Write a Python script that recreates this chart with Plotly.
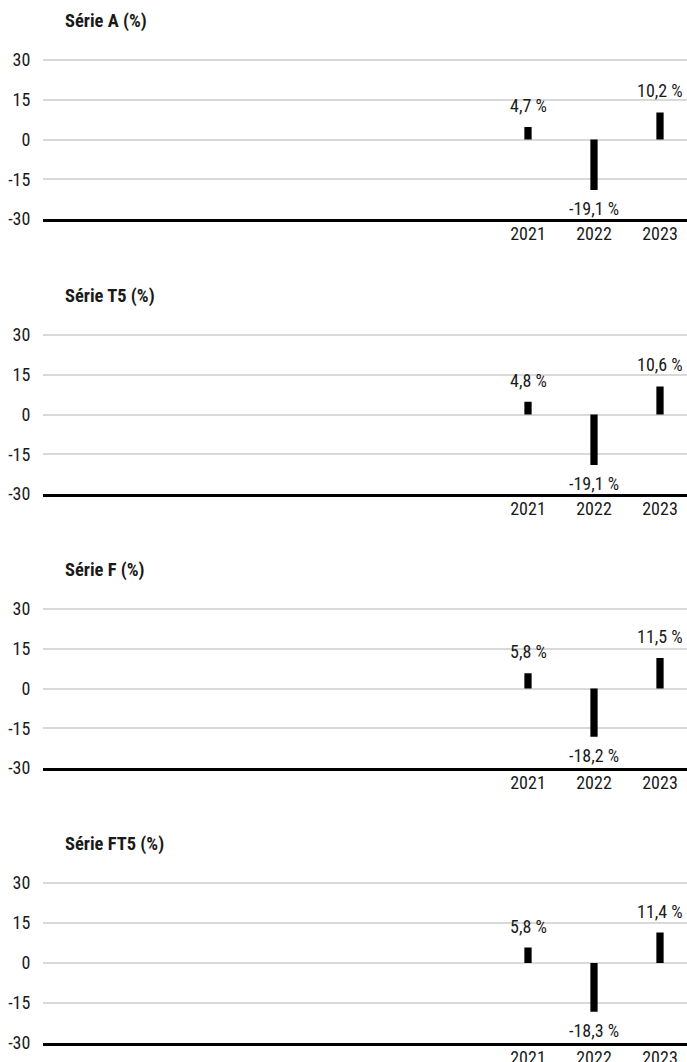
import plotly.graph_objects as go

years = [2021, 2022, 2023]
titles = ["Série A (%)", "Série T5 (%)", "Série F (%)", "Série FT5 (%)"]
serie_a = [4.7, -19.1, 10.2]
serie_t5 = [4.8, -19.1, 10.6]
serie_f = [5.8, -18.2, 11.5]
serie_ft5 = [5.8, -18.3, 11.4]
y_ticks = [-30, -15, 0, 15, 30]
series = [serie_a, serie_t5, serie_f, serie_ft5]

W, H = 687, 1062
FONT = "Liberation Sans Narrow, Arial Narrow, Roboto Condensed, DejaVu Sans Condensed, Liberation Sans, sans-serif"
TXT = "#1a1a1a"

# pixel positions of each panel (top = +30 line, bottom = -30 line)
tops = [60, 335, 609, 883]
bottoms = [219, 494, 768, 1043]
left_px, right_px = 43, 687
Y_TOP = 30.6  # small headroom so the +30 gridline is drawn

fig = go.Figure()
annotations = []
layout = dict(
    width=W, height=H,
    margin=dict(l=left_px, r=W - right_px, t=0, b=0, autoexpand=False),
    plot_bgcolor="white", paper_bgcolor="white",
    showlegend=False,
    font=dict(family=FONT, size=18, color=TXT),
)

def fmt(v):
    return f"{v:.1f}".replace(".", ",") + " %"

for i, (vals, title) in enumerate(zip(series, titles)):
    n = "" if i == 0 else str(i + 1)
    xa, ya = "x" + n, "y" + n
    fig.add_trace(go.Bar(
        x=years, y=vals, xaxis=xa, yaxis=ya,
        width=0.11, marker=dict(color="black", line=dict(width=0)),
        hoverinfo="skip",
    ))
    px_per_unit = (bottoms[i] - tops[i]) / 60.0
    top_px = tops[i] - (Y_TOP - 30) * px_per_unit
    d0 = 1 - bottoms[i] / H
    d1 = 1 - top_px / H
    layout["xaxis" + n] = dict(
        domain=[0, 1], anchor=ya, range=[2013.652, 2023.409],
        tickvals=years, ticktext=[str(y) for y in years],
        showgrid=False, zeroline=False,
        showline=True, linecolor="black", linewidth=3,
        ticks="", ticklabelstandoff=-4,
        tickfont=dict(family=FONT, size=18, color=TXT),
        automargin=False,
    )
    layout["yaxis" + n] = dict(
        domain=[d0, d1], anchor=xa, range=[-30, Y_TOP],
        tickvals=y_ticks, ticktext=[str(t) for t in y_ticks],
        showgrid=True, gridcolor="#d9d9d9", gridwidth=2,
        zeroline=False, showline=False,
        ticks="outside", ticklen=8, tickcolor="rgba(0,0,0,0)",
        tickfont=dict(family=FONT, size=18, color=TXT),
        automargin=False,
    )
    annotations.append(dict(
        text="<b>" + title + "</b>", xref="paper", yref="paper",
        x=(63 - left_px) / (right_px - left_px), y=1 - tops[i] / H, yshift=39,
        xanchor="left", yanchor="middle", showarrow=False,
        font=dict(family=FONT, size=18.5, color=TXT),
    ))
    for yr, v in zip(years, vals):
        annotations.append(dict(
            text=fmt(v), x=yr, y=v, xref=xa, yref=ya,
            xanchor="center", yanchor="bottom" if v >= 0 else "top",
            yshift=9 if v >= 0 else -6, showarrow=False,
            font=dict(family=FONT, size=18, color=TXT),
        ))

layout["annotations"] = annotations
fig.update_layout(**layout)
fig.write_html(
    "out.html",
    config={"displayModeBar": False},
    post_script="document.body.style.margin='0';document.body.style.overflow='hidden';",
)
